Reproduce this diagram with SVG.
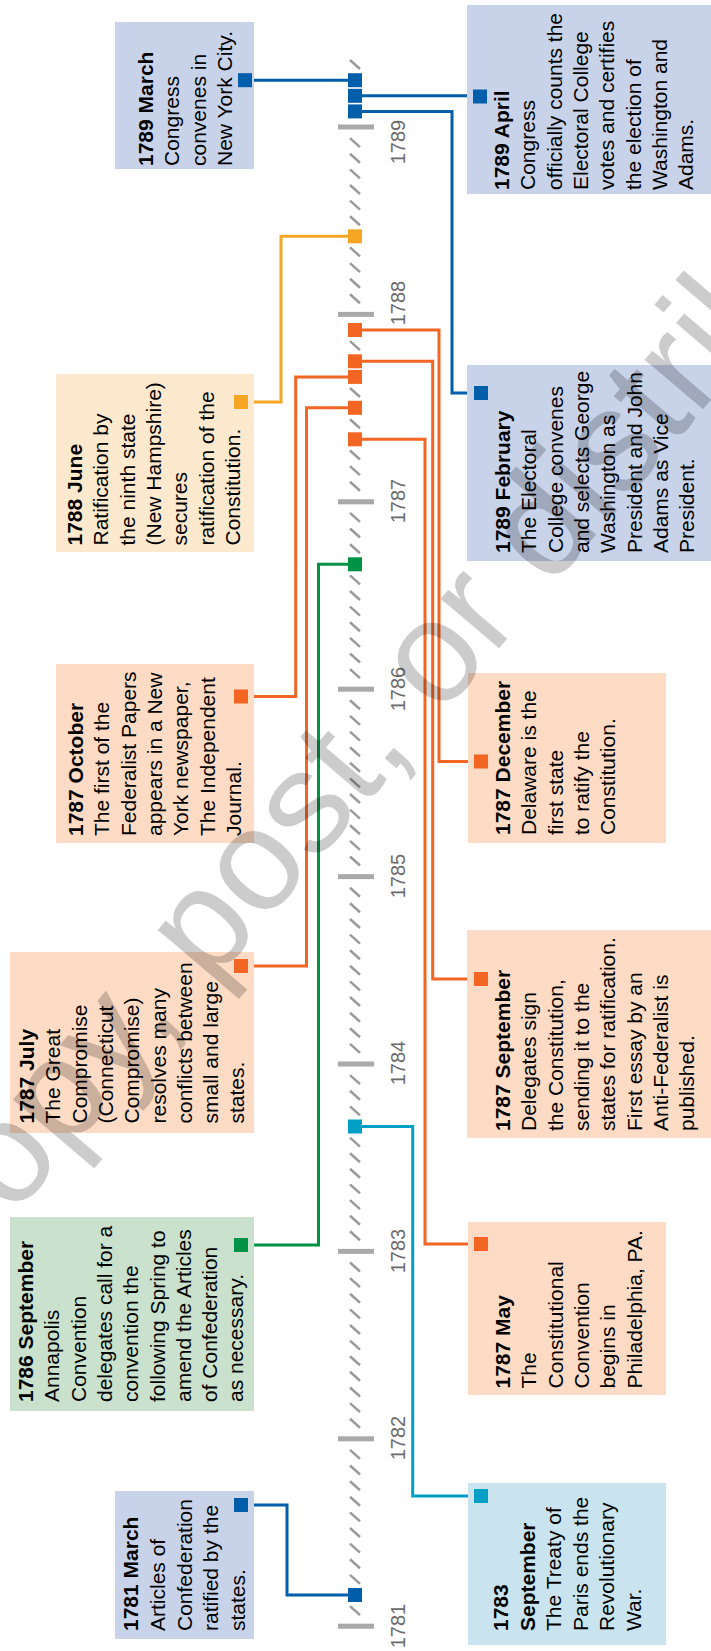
<svg xmlns="http://www.w3.org/2000/svg" width="711" height="1651" viewBox="0 0 711 1651">
<style>
text{font-family:"Liberation Sans",Arial,Helvetica,sans-serif}
.t{font-size:21px;fill:#000}
.b{font-weight:bold}
.yr{font-size:20px;fill:#6b6b6b;text-anchor:middle}
.bx-blue{fill:#c8d3ea}
.bx-org{fill:#fddbc4}
.bx-yel{fill:#fde9ce}
.bx-grn{fill:#c9e1cd}
.bx-cyn{fill:#c9e4ee}
.ln{fill:none;stroke-width:3;stroke-linejoin:miter}
.tick{fill:#aaaaac}
.hash{stroke:#9a9a9a;stroke-width:2.5}
.wm{font-size:145px;fill:#000;fill-opacity:0.2}
</style>
<defs>
<path id="h" d="M350,-4.5 L360,4.5" class="hash"/>
<rect id="sq" x="-7" y="-7" width="14" height="14"/>
</defs>
<g id="axis">
<g id="hashes">
<use href="#h" y="64.5"/>
<use href="#h" y="142.6"/><use href="#h" y="158.2"/><use href="#h" y="173.9"/><use href="#h" y="189.5"/><use href="#h" y="205.1"/><use href="#h" y="220.7"/><use href="#h" y="236.3"/><use href="#h" y="251.9"/><use href="#h" y="267.6"/><use href="#h" y="283.2"/><use href="#h" y="298.8"/>
<use href="#h" y="330.0"/><use href="#h" y="345.6"/><use href="#h" y="361.3"/><use href="#h" y="376.9"/><use href="#h" y="392.5"/><use href="#h" y="408.1"/><use href="#h" y="423.7"/><use href="#h" y="439.3"/><use href="#h" y="455.0"/><use href="#h" y="470.6"/><use href="#h" y="486.2"/>
<use href="#h" y="517.4"/><use href="#h" y="533.0"/><use href="#h" y="548.7"/><use href="#h" y="564.3"/><use href="#h" y="579.9"/><use href="#h" y="595.5"/><use href="#h" y="611.1"/><use href="#h" y="626.7"/><use href="#h" y="642.4"/><use href="#h" y="658.0"/><use href="#h" y="673.6"/>
<use href="#h" y="704.8"/><use href="#h" y="720.4"/><use href="#h" y="736.1"/><use href="#h" y="751.7"/><use href="#h" y="767.3"/><use href="#h" y="782.9"/><use href="#h" y="798.5"/><use href="#h" y="814.1"/><use href="#h" y="829.8"/><use href="#h" y="845.4"/><use href="#h" y="861.0"/>
<use href="#h" y="892.2"/><use href="#h" y="907.8"/><use href="#h" y="923.5"/><use href="#h" y="939.1"/><use href="#h" y="954.7"/><use href="#h" y="970.3"/><use href="#h" y="985.9"/><use href="#h" y="1001.5"/><use href="#h" y="1017.2"/><use href="#h" y="1032.8"/><use href="#h" y="1048.4"/>
<use href="#h" y="1079.6"/><use href="#h" y="1095.2"/><use href="#h" y="1110.9"/><use href="#h" y="1126.5"/><use href="#h" y="1142.1"/><use href="#h" y="1157.7"/><use href="#h" y="1173.3"/><use href="#h" y="1188.9"/><use href="#h" y="1204.6"/><use href="#h" y="1220.2"/><use href="#h" y="1235.8"/>
<use href="#h" y="1267.0"/><use href="#h" y="1282.6"/><use href="#h" y="1298.3"/><use href="#h" y="1313.9"/><use href="#h" y="1329.5"/><use href="#h" y="1345.1"/><use href="#h" y="1360.7"/><use href="#h" y="1376.3"/><use href="#h" y="1392.0"/><use href="#h" y="1407.6"/><use href="#h" y="1423.2"/>
<use href="#h" y="1454.4"/><use href="#h" y="1470.0"/><use href="#h" y="1485.7"/><use href="#h" y="1501.3"/><use href="#h" y="1516.9"/><use href="#h" y="1532.5"/><use href="#h" y="1548.1"/><use href="#h" y="1563.7"/><use href="#h" y="1579.4"/><use href="#h" y="1595.0"/><use href="#h" y="1610.6"/>
</g>
<g id="ticks">
<rect class="tick" x="338" y="124.5" width="36" height="5"/>
<rect class="tick" x="338" y="311.9" width="36" height="5"/>
<rect class="tick" x="338" y="499.3" width="36" height="5"/>
<rect class="tick" x="338" y="686.7" width="36" height="5"/>
<rect class="tick" x="338" y="874.1" width="36" height="5"/>
<rect class="tick" x="338" y="1061.5" width="36" height="5"/>
<rect class="tick" x="338" y="1248.9" width="36" height="5"/>
<rect class="tick" x="338" y="1436.3" width="36" height="5"/>
<rect class="tick" x="338" y="1623.7" width="36" height="5"/>
</g>
<g id="years">
<text class="yr" transform="translate(0,142) rotate(-90)" x="0" y="405">1789</text>
<text class="yr" transform="translate(0,303) rotate(-90)" x="0" y="405">1788</text>
<text class="yr" transform="translate(0,501) rotate(-90)" x="0" y="405">1787</text>
<text class="yr" transform="translate(0,689) rotate(-90)" x="0" y="405">1786</text>
<text class="yr" transform="translate(0,876) rotate(-90)" x="0" y="405">1785</text>
<text class="yr" transform="translate(0,1063) rotate(-90)" x="0" y="405">1784</text>
<text class="yr" transform="translate(0,1251) rotate(-90)" x="0" y="405">1783</text>
<text class="yr" transform="translate(0,1438) rotate(-90)" x="0" y="405">1782</text>
<text class="yr" transform="translate(0,1626) rotate(-90)" x="0" y="405">1781</text>
</g>
</g>
<g id="connectors">
<polyline class="ln" stroke="#005eaa" points="355,80.2 245,80.2"/>
<polyline class="ln" stroke="#005eaa" points="355,95.8 480,95.8"/>
<polyline class="ln" stroke="#005eaa" points="355,111.4 452,111.4 452,393 481,393"/>
<polyline class="ln" stroke="#f6a623" points="355,236.3 281,236.3 281,402 241,402"/>
<polyline class="ln" stroke="#f26522" points="355,330 439,330 439,761.5 481,761.5"/>
<polyline class="ln" stroke="#f26522" points="355,361.3 432.7,361.3 432.7,979 481,979"/>
<polyline class="ln" stroke="#f26522" points="355,376.9 295.7,376.9 295.7,696.5 241,696.5"/>
<polyline class="ln" stroke="#f26522" points="355,407.8 306.5,407.8 306.5,966 241,966"/>
<polyline class="ln" stroke="#f26522" points="355,439.3 425,439.3 425,1244 481,1244"/>
<polyline class="ln" stroke="#009245" points="355,564.3 318.5,564.3 318.5,1245 241,1245"/>
<polyline class="ln" stroke="#00a0c6" points="355,1126.5 412.7,1126.5 412.7,1496 481,1496"/>
<polyline class="ln" stroke="#005eaa" points="355,1595 287,1595 287,1505 241,1505"/>
<g id="axis-markers">
<use href="#sq" x="355" y="80.2" fill="#005eaa"/>
<use href="#sq" x="355" y="95.8" fill="#005eaa"/>
<use href="#sq" x="355" y="111.4" fill="#005eaa"/>
<use href="#sq" x="355" y="236.3" fill="#f6a623"/>
<use href="#sq" x="355" y="330" fill="#f26522"/>
<use href="#sq" x="355" y="361.3" fill="#f26522"/>
<use href="#sq" x="355" y="376.9" fill="#f26522"/>
<use href="#sq" x="355" y="407.8" fill="#f26522"/>
<use href="#sq" x="355" y="439.3" fill="#f26522"/>
<use href="#sq" x="355" y="564.3" fill="#009245"/>
<use href="#sq" x="355" y="1126.5" fill="#00a0c6"/>
<use href="#sq" x="355" y="1595" fill="#005eaa"/>
</g>
</g>
<g id="n1789mar">
<rect class="bx-blue" x="115" y="22" width="139" height="147"/>
<use href="#sq" x="245" y="80.2" fill="#005eaa"/>
<text class="t" transform="translate(0,166) rotate(-90)"><tspan class="b" x="0" y="153">1789 March</tspan><tspan x="0" y="179.3">Congress</tspan><tspan x="0" y="205.6">convenes in</tspan><tspan x="0" y="231.9">New York City.</tspan></text>
</g>
<g id="n1789apr">
<rect class="bx-blue" x="467" y="5" width="244" height="189"/>
<use href="#sq" x="480" y="96.5" fill="#005eaa"/>
<text class="t" transform="translate(0,190) rotate(-90)"><tspan class="b" x="0" y="509">1789 April</tspan><tspan x="0" y="535.3">Congress</tspan><tspan x="0" y="561.6">officially counts the</tspan><tspan x="0" y="587.9">Electoral College</tspan><tspan x="0" y="614.2">votes and certifies</tspan><tspan x="0" y="640.5">the election of</tspan><tspan x="0" y="666.8">Washington and</tspan><tspan x="0" y="693.1">Adams.</tspan></text>
</g>
<g id="n1789feb">
<rect class="bx-blue" x="467" y="365" width="244" height="196"/>
<use href="#sq" x="481" y="393" fill="#005eaa"/>
<text class="t" transform="translate(0,553) rotate(-90)"><tspan class="b" x="0" y="510">1789 February</tspan><tspan x="0" y="536.3">The Electoral</tspan><tspan x="0" y="562.6">College convenes</tspan><tspan x="0" y="588.9">and selects George</tspan><tspan x="0" y="615.2">Washington as</tspan><tspan x="0" y="641.5">President and John</tspan><tspan x="0" y="667.8">Adams as Vice</tspan><tspan x="0" y="694.1">President.</tspan></text>
</g>
<g id="n1788jun">
<rect class="bx-yel" x="56" y="374" width="198" height="178"/>
<use href="#sq" x="241" y="402" fill="#f6a623"/>
<text class="t" transform="translate(0,545.5) rotate(-90)"><tspan class="b" x="0" y="82">1788 June</tspan><tspan x="0" y="108.3">Ratification by</tspan><tspan x="0" y="134.6">the ninth state</tspan><tspan x="0" y="160.9">(New Hampshire)</tspan><tspan x="0" y="187.2">secures</tspan><tspan x="0" y="213.5">ratification of the</tspan><tspan x="0" y="239.8">Constitution.</tspan></text>
</g>
<g id="n1787oct">
<rect class="bx-org" x="56" y="664" width="198" height="179"/>
<use href="#sq" x="241" y="696.5" fill="#f26522"/>
<text class="t" transform="translate(0,836) rotate(-90)"><tspan class="b" x="0" y="83">1787 October</tspan><tspan x="0" y="109.3">The first of the</tspan><tspan x="0" y="135.6">Federalist Papers</tspan><tspan x="0" y="161.9">appears in a New</tspan><tspan x="0" y="188.2">York newspaper,</tspan><tspan x="0" y="214.5">The Independent</tspan><tspan x="0" y="240.8">Journal.</tspan></text>
</g>
<g id="n1787dec">
<rect class="bx-org" x="468" y="673" width="198" height="170"/>
<use href="#sq" x="481" y="761.5" fill="#f26522"/>
<text class="t" transform="translate(0,835) rotate(-90)"><tspan class="b" x="0" y="510">1787 December</tspan><tspan x="0" y="536.3">Delaware is the</tspan><tspan x="0" y="562.6">first state</tspan><tspan x="0" y="588.9">to ratify the</tspan><tspan x="0" y="615.2">Constitution.</tspan></text>
</g>
<g id="n1787jul">
<rect class="bx-org" x="10" y="952" width="244" height="181"/>
<use href="#sq" x="241" y="966" fill="#f26522"/>
<text class="t" transform="translate(0,1123.5) rotate(-90)"><tspan class="b" x="0" y="34">1787 July</tspan><tspan x="0" y="60.3">The Great</tspan><tspan x="0" y="86.6">Compromise</tspan><tspan x="0" y="112.9">(Connecticut</tspan><tspan x="0" y="139.2">Compromise)</tspan><tspan x="0" y="165.5">resolves many</tspan><tspan x="0" y="191.8">conflicts between</tspan><tspan x="0" y="218.1">small and large</tspan><tspan x="0" y="244.4">states.</tspan></text>
</g>
<g id="n1787sep">
<rect class="bx-org" x="467" y="930" width="244" height="208"/>
<use href="#sq" x="481" y="979" fill="#f26522"/>
<text class="t" transform="translate(0,1131) rotate(-90)"><tspan class="b" x="0" y="510">1787 September</tspan><tspan x="0" y="536.3">Delegates sign</tspan><tspan x="0" y="562.6">the Constitution,</tspan><tspan x="0" y="588.9">sending it to the</tspan><tspan x="0" y="615.2">states for ratification.</tspan><tspan x="0" y="641.5">First essay by an</tspan><tspan x="0" y="667.8">Anti-Federalist is</tspan><tspan x="0" y="694.1">published.</tspan></text>
</g>
<g id="n1787may">
<rect class="bx-org" x="468" y="1222" width="198" height="173"/>
<use href="#sq" x="481" y="1244" fill="#f26522"/>
<text class="t" transform="translate(0,1388.5) rotate(-90)"><tspan class="b" x="0" y="510">1787 May</tspan><tspan x="0" y="536.3">The</tspan><tspan x="0" y="562.6">Constitutional</tspan><tspan x="0" y="588.9">Convention</tspan><tspan x="0" y="615.2">begins in</tspan><tspan x="0" y="641.5">Philadelphia, PA.</tspan></text>
</g>
<g id="n1786sep">
<rect class="bx-grn" x="10" y="1217" width="244" height="194"/>
<use href="#sq" x="241" y="1245" fill="#009245"/>
<text class="t" transform="translate(0,1402) rotate(-90)"><tspan class="b" x="0" y="33">1786 September</tspan><tspan x="0" y="59.3">Annapolis</tspan><tspan x="0" y="85.6">Convention</tspan><tspan x="0" y="111.9">delegates call for a</tspan><tspan x="0" y="138.2">convention the</tspan><tspan x="0" y="164.5">following Spring to</tspan><tspan x="0" y="190.8">amend the Articles</tspan><tspan x="0" y="217.1">of Confederation</tspan><tspan x="0" y="243.4">as necessary.</tspan></text>
</g>
<g id="n1781mar">
<rect class="bx-blue" x="115" y="1491" width="139" height="148"/>
<use href="#sq" x="241" y="1505" fill="#005eaa"/>
<text class="t" transform="translate(0,1631) rotate(-90)"><tspan class="b" x="0" y="138">1781 March</tspan><tspan x="0" y="164.8">Articles of</tspan><tspan x="0" y="191.6">Confederation</tspan><tspan x="0" y="218.4">ratified by the</tspan><tspan x="0" y="245.2">states.</tspan></text>
</g>
<g id="n1783sep">
<rect class="bx-cyn" x="468" y="1483" width="198" height="162"/>
<use href="#sq" x="481" y="1496" fill="#00a0c6"/>
<text class="t" transform="translate(0,1631) rotate(-90)"><tspan class="b" x="0" y="508">1783</tspan><tspan class="b" x="0" y="534.5">September</tspan><tspan x="0" y="561">The Treaty of</tspan><tspan x="0" y="587.5">Paris ends the</tspan><tspan x="0" y="614">Revolutionary</tspan><tspan x="0" y="640.5">War.</tspan></text>
</g>
<text class="wm" x="-34.4" y="1273" transform="rotate(-49.5 -34.4 1273)">copy, post, or distribute</text>
</svg>
